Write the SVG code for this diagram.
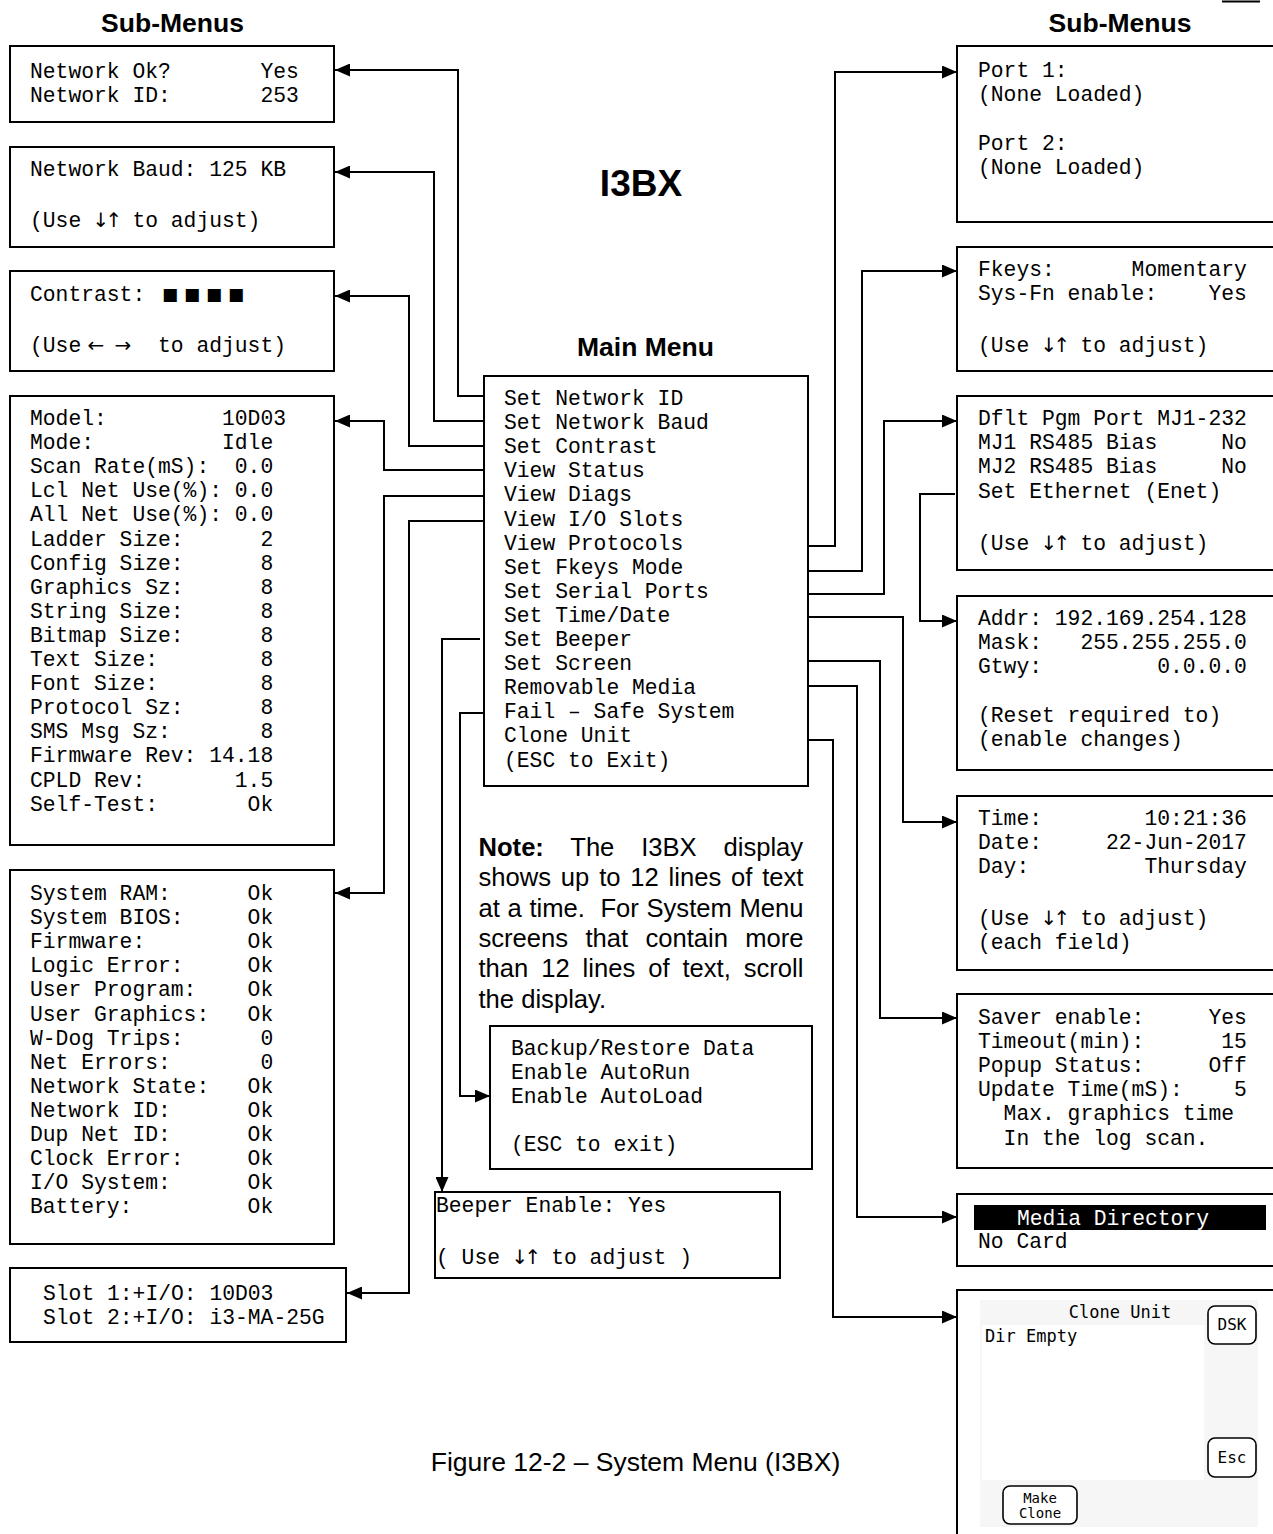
<svg xmlns="http://www.w3.org/2000/svg" width="1273" height="1534" viewBox="0 0 1273 1534">
<style>
.box{fill:#fff;stroke:#000;stroke-width:2}
.m{font-family:"Liberation Mono","Courier New",monospace;font-size:21.33px;fill:#000}
.a{font-family:"DejaVu Sans",sans-serif;font-size:20px;text-anchor:middle;fill:#000}
.r{text-anchor:end}
.t{font-family:"Liberation Sans",Arial,sans-serif;font-weight:bold;font-size:26.5px;text-anchor:middle;fill:#000}
.n{font-family:"Liberation Sans",Arial,sans-serif;font-size:25.6px;fill:#000}
.c{fill:none;stroke:#000;stroke-width:2}
.lcd{font-family:"DejaVu Sans Mono",monospace;fill:#000}
.btn{fill:#fff;stroke:#000;stroke-width:1.6}
</style>
<defs>
<marker id="ah" markerUnits="userSpaceOnUse" markerWidth="15" markerHeight="13" refX="15" refY="6.5" orient="auto">
<path d="M0,0 L15,6.5 L0,13 z" fill="#000"/>
</marker>
</defs>
<rect width="1273" height="1534" fill="#fff"/>
<line x1="1222" y1="1.5" x2="1260" y2="1.5" stroke="#000" stroke-width="2"/>

<text class="t" x="172.5" y="32">Sub-Menus</text>
<text class="t" x="1120" y="32">Sub-Menus</text>
<text class="t" x="641" y="196" style="font-size:37px">I3BX</text>
<text class="t" x="645.5" y="356">Main Menu</text>
<text class="t" x="635.5" y="1471" style="font-weight:normal">Figure 12-2 – System Menu (I3BX)</text>

<g id="connectors" marker-end="url(#ah)">
<path class="c" d="M484 396 H458 V70 H335"/>
<path class="c" d="M484 421 H434 V172 H335"/>
<path class="c" d="M484 446 H409 V296 H335"/>
<path class="c" d="M484 470 H384 V421 H335"/>
<path class="c" d="M484 496 H384 V893 H335"/>
<path class="c" d="M484 521 H409 V1293 H347"/>
<path class="c" d="M480 639 H442 V1192"/>
<path class="c" d="M484 713 H460 V1096 H490"/>
<path class="c" d="M808 546 H835 V72 H957"/>
<path class="c" d="M808 571 H862 V271 H957"/>
<path class="c" d="M808 594 H884 V421 H957"/>
<path class="c" d="M955 494 H920 V621 H957"/>
<path class="c" d="M808 617 H903 V822 H957"/>
<path class="c" d="M808 661 H880 V1018 H957"/>
<path class="c" d="M808 686 H857 V1217 H957"/>
<path class="c" d="M808 740 H833 V1317 H957"/>
</g>

<g id="network-ok">
<rect class="box" x="10" y="46" width="324" height="76"/>
<text class="m" x="30" y="78">Network Ok?</text><text class="m r" x="298.8" y="78">Yes</text>
<text class="m" x="30" y="102">Network ID:</text><text class="m r" x="298.8" y="102">253</text>
</g>

<g id="network-baud" xml:space="preserve">
<rect class="box" x="10" y="147" width="324" height="100"/>
<text class="m" x="30" y="176">Network Baud:  125 KB</text>
<text class="m" x="30" y="227">(Use</text><text class="a" x="101 114" y="227">↓↑</text><text class="m" x="132.4" y="227">to adjust)</text>
</g>

<g id="contrast">
<rect class="box" x="10" y="271" width="324" height="100"/>
<text class="m" x="30" y="301">Contrast:</text>
<text x="162 184 206 228" y="300" style="font-family:'DejaVu Sans',sans-serif;font-size:17px">■■■■</text>
<text class="m" x="30" y="352">(Use</text>
<text class="a" x="96" y="352">←</text>
<text class="a" x="123" y="352">→</text>
<text class="m" x="158" y="352">to adjust)</text>
</g>

<g id="status">
<rect class="box" x="10" y="396" width="324" height="449"/>
<g class="m">
<text x="30" y="425">Model:</text><text class="r" x="286" y="425">10D03</text>
<text x="30" y="449.1">Mode:</text><text class="r" x="273.2" y="449.1">Idle</text>
<text x="30" y="473.2">Scan Rate(mS):</text><text class="r" x="273.2" y="473.2">0.0</text>
<text x="30" y="497.3">Lcl Net Use(%):</text><text class="r" x="273.2" y="497.3">0.0</text>
<text x="30" y="521.4">All Net Use(%):</text><text class="r" x="273.2" y="521.4">0.0</text>
<text x="30" y="545.5">Ladder Size:</text><text class="r" x="273.2" y="545.5">2</text>
<text x="30" y="569.6">Config Size:</text><text class="r" x="273.2" y="569.6">8</text>
<text x="30" y="593.7">Graphics Sz:</text><text class="r" x="273.2" y="593.7">8</text>
<text x="30" y="617.8">String Size:</text><text class="r" x="273.2" y="617.8">8</text>
<text x="30" y="641.9">Bitmap Size:</text><text class="r" x="273.2" y="641.9">8</text>
<text x="30" y="666">Text Size:</text><text class="r" x="273.2" y="666">8</text>
<text x="30" y="690.1">Font Size:</text><text class="r" x="273.2" y="690.1">8</text>
<text x="30" y="714.2">Protocol Sz:</text><text class="r" x="273.2" y="714.2">8</text>
<text x="30" y="738.3">SMS Msg Sz:</text><text class="r" x="273.2" y="738.3">8</text>
<text x="30" y="762.4">Firmware Rev:</text><text class="r" x="273.2" y="762.4">14.18</text>
<text x="30" y="786.5">CPLD Rev:</text><text class="r" x="273.2" y="786.5">1.5</text>
<text x="30" y="810.6">Self-Test:</text><text class="r" x="273.2" y="810.6">Ok</text>
</g>
</g>

<g id="diags">
<rect class="box" x="10" y="870" width="324" height="374"/>
<g class="m">
<text x="30" y="900">System RAM:</text><text class="r" x="273.2" y="900">Ok</text>
<text x="30" y="924.1">System BIOS:</text><text class="r" x="273.2" y="924.1">Ok</text>
<text x="30" y="948.2">Firmware:</text><text class="r" x="273.2" y="948.2">Ok</text>
<text x="30" y="972.3">Logic Error:</text><text class="r" x="273.2" y="972.3">Ok</text>
<text x="30" y="996.4">User Program:</text><text class="r" x="273.2" y="996.4">Ok</text>
<text x="30" y="1020.5">User Graphics:</text><text class="r" x="273.2" y="1020.5">Ok</text>
<text x="30" y="1044.6">W-Dog Trips:</text><text class="r" x="273.2" y="1044.6">0</text>
<text x="30" y="1068.7">Net Errors:</text><text class="r" x="273.2" y="1068.7">0</text>
<text x="30" y="1092.8">Network State:</text><text class="r" x="273.2" y="1092.8">Ok</text>
<text x="30" y="1116.9">Network ID:</text><text class="r" x="273.2" y="1116.9">Ok</text>
<text x="30" y="1141">Dup Net ID:</text><text class="r" x="273.2" y="1141">Ok</text>
<text x="30" y="1165.1">Clock Error:</text><text class="r" x="273.2" y="1165.1">Ok</text>
<text x="30" y="1189.2">I/O System:</text><text class="r" x="273.2" y="1189.2">Ok</text>
<text x="30" y="1213.3">Battery:</text><text class="r" x="273.2" y="1213.3">Ok</text>
</g>
</g>

<g id="io-slots">
<rect class="box" x="10" y="1268" width="336" height="74"/>
<text class="m" x="43" y="1300">Slot 1:+I/O: 10D03</text>
<text class="m" x="43" y="1324">Slot 2:+I/O: i3-MA-25G</text>
</g>

<g id="main-menu">
<rect class="box" x="484" y="376" width="324" height="410"/>
<g class="m">
<text x="504" y="405">Set Network ID</text>
<text x="504" y="429.1">Set Network Baud</text>
<text x="504" y="453.2">Set Contrast</text>
<text x="504" y="477.3">View Status</text>
<text x="504" y="501.4">View Diags</text>
<text x="504" y="525.5">View I/O Slots</text>
<text x="504" y="549.6">View Protocols</text>
<text x="504" y="573.7">Set Fkeys Mode</text>
<text x="504" y="597.8">Set Serial Ports</text>
<text x="504" y="621.9">Set Time/Date</text>
<text x="504" y="646">Set Beeper</text>
<text x="504" y="670.1">Set Screen</text>
<text x="504" y="694.2">Removable Media</text>
<text x="504" y="718.3">Fail – Safe System</text>
<text x="504" y="742.4">Clone Unit</text>
<text x="504" y="766.5">(ESC to Exit)</text>
</g>
</g>

<g id="note" class="n">
<text x="478.5" y="856" style="word-spacing:19.7px"><tspan style="font-weight:bold">Note:</tspan> The I3BX display</text>
<text x="478.5" y="886.3" style="word-spacing:2.7px">shows up to 12 lines of text</text>
<text x="478.5" y="916.6" style="word-spacing:0.6px" xml:space="preserve">at a time.  For System Menu</text>
<text x="478.5" y="946.9" style="word-spacing:10.2px">screens that contain more</text>
<text x="478.5" y="977.2" style="word-spacing:5.8px">than 12 lines of text, scroll</text>
<text x="478.5" y="1007.5">the display.</text>
</g>

<g id="fail-safe">
<rect class="box" x="490" y="1026" width="322" height="143"/>
<g class="m">
<text x="511" y="1055">Backup/Restore Data</text>
<text x="511" y="1079">Enable AutoRun</text>
<text x="511" y="1103">Enable AutoLoad</text>
<text x="511" y="1151">(ESC to exit)</text>
</g>
</g>

<g id="beeper" xml:space="preserve">
<rect class="box" x="435" y="1192" width="345" height="86"/>
<text class="m" x="436" y="1212">Beeper Enable: Yes</text>
<text class="m" x="436" y="1264">( Use</text><text class="a" x="520 533" y="1264">↓↑</text><text class="m" x="551.2" y="1264">to adjust )</text>
</g>

<g id="protocols">
<rect class="box" x="957" y="46" width="330" height="176"/>
<g class="m">
<text x="978" y="77">Port 1:</text>
<text x="978" y="101">(None Loaded)</text>
<text x="978" y="150">Port 2:</text>
<text x="978" y="174">(None Loaded)</text>
</g>
</g>

<g id="fkeys">
<rect class="box" x="957" y="247" width="330" height="124"/>
<g class="m">
<text x="978" y="276">Fkeys:</text><text class="r" x="1246.8" y="276">Momentary</text>
<text x="978" y="300">Sys-Fn enable:</text><text class="r" x="1246.8" y="300">Yes</text>
<text x="978" y="352">(Use</text><text class="a" x="1049 1062" y="352">↓↑</text><text x="1080.4" y="352">to adjust)</text>
</g>
</g>

<g id="serial-ports">
<rect class="box" x="957" y="396" width="330" height="174"/>
<g class="m">
<text x="978" y="425">Dflt Pgm Port MJ1-232</text>
<text x="978" y="449">MJ1 RS485 Bias</text><text class="r" x="1246.8" y="449">No</text>
<text x="978" y="473">MJ2 RS485 Bias</text><text class="r" x="1246.8" y="473">No</text>
<text x="978" y="498">Set Ethernet (Enet)</text>
<text x="978" y="550">(Use</text><text class="a" x="1049 1062" y="550">↓↑</text><text x="1080.4" y="550">to adjust)</text>
</g>
</g>

<g id="ethernet">
<rect class="box" x="957" y="596" width="330" height="174"/>
<g class="m">
<text x="978" y="625">Addr: 192.169.254.128</text>
<text x="978" y="649">Mask:</text><text class="r" x="1246.8" y="649">255.255.255.0</text>
<text x="978" y="673">Gtwy:</text><text class="r" x="1246.8" y="673">0.0.0.0</text>
<text x="978" y="722">(Reset required to)</text>
<text x="978" y="746">(enable changes)</text>
</g>
</g>

<g id="time-date">
<rect class="box" x="957" y="796" width="330" height="174"/>
<g class="m">
<text x="978" y="825">Time:</text><text class="r" x="1246.8" y="825">10:21:36</text>
<text x="978" y="849">Date:</text><text class="r" x="1246.8" y="849">22-Jun-2017</text>
<text x="978" y="873">Day:</text><text class="r" x="1246.8" y="873">Thursday</text>
<text x="978" y="925">(Use</text><text class="a" x="1049 1062" y="925">↓↑</text><text x="1080.4" y="925">to adjust)</text>
<text x="978" y="949">(each field)</text>
</g>
</g>

<g id="screen">
<rect class="box" x="957" y="994" width="330" height="174"/>
<g class="m">
<text x="978" y="1024">Saver enable:</text><text class="r" x="1246.8" y="1024">Yes</text>
<text x="978" y="1048">Timeout(min):</text><text class="r" x="1246.8" y="1048">15</text>
<text x="978" y="1072">Popup Status:</text><text class="r" x="1246.8" y="1072">Off</text>
<text x="978" y="1096">Update Time(mS):</text><text class="r" x="1246.8" y="1096">5</text>
<text x="1003.6" y="1120">Max. graphics time</text>
<text x="1003.6" y="1145">In the log scan.</text>
</g>
</g>

<g id="media">
<rect class="box" x="957" y="1194" width="330" height="72"/>
<rect x="974" y="1205" width="292" height="25" fill="#000"/>
<text class="m" x="1017" y="1225" style="fill:#fff">Media Directory</text>
<text class="m" x="978" y="1248">No Card</text>
</g>

<g id="clone">
<rect class="box" x="957" y="1290" width="330" height="260"/>
<rect x="980" y="1300" width="278" height="227" fill="#f6f6f6"/>
<rect x="982" y="1325" width="222" height="155" fill="#fff"/>
<text class="lcd" x="1120" y="1318" style="font-size:17px;text-anchor:middle">Clone Unit</text>
<text class="lcd" x="985" y="1342" style="font-size:17px">Dir Empty</text>
<rect class="btn" x="1208" y="1306" width="48" height="38" rx="7"/>
<text class="lcd" x="1232" y="1330" style="font-size:16px;text-anchor:middle">DSK</text>
<rect class="btn" x="1208" y="1438" width="48" height="39" rx="7"/>
<text class="lcd" x="1232" y="1463" style="font-size:16px;text-anchor:middle">Esc</text>
<rect class="btn" x="1003" y="1486" width="74" height="38" rx="7"/>
<text class="lcd" x="1040" y="1503" style="font-size:14px;text-anchor:middle">Make</text>
<text class="lcd" x="1040" y="1518" style="font-size:14px;text-anchor:middle">Clone</text>
</g>
</svg>
